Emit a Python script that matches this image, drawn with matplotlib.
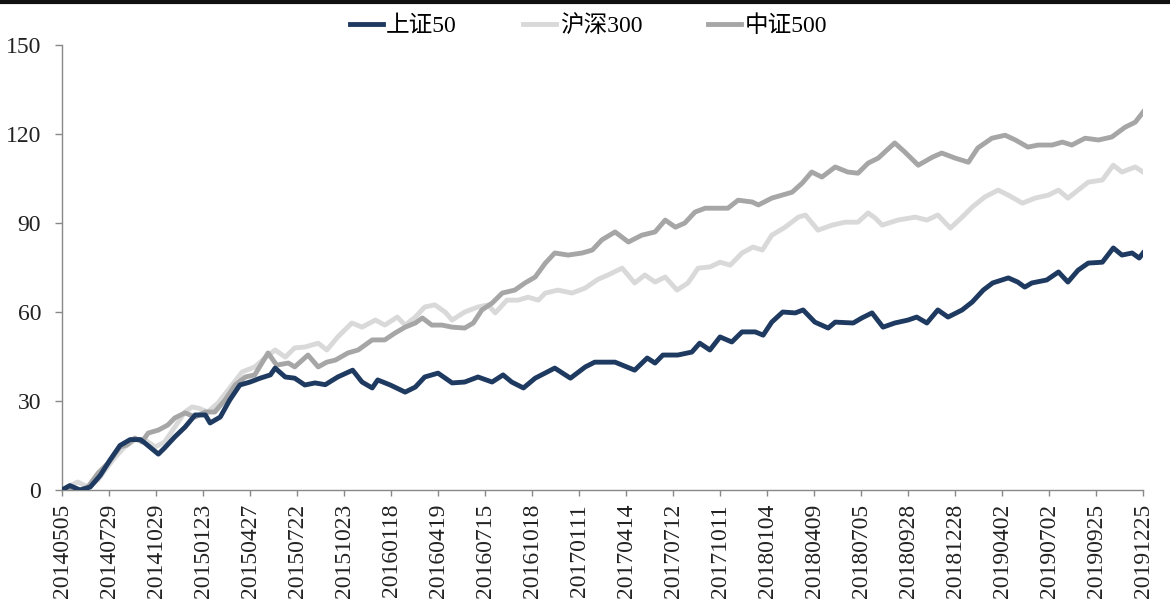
import matplotlib
matplotlib.use("Agg")
import matplotlib.pyplot as plt
from matplotlib.lines import Line2D

plt.rcParams['font.family'] = ['Liberation Serif', 'Noto Sans CJK SC', 'DejaVu Sans']
plt.rcParams['axes.unicode_minus'] = False

# trading-day index -> cumulative value
sz50_x = [0, 10, 23, 36, 49, 61, 74, 87, 100, 106, 123, 131, 144, 157, 170, 183, 189, 202,
          214, 227, 240, 253, 266, 272, 285, 297, 310, 323, 336, 352, 371, 383, 396, 403,
          419, 438, 451, 463, 480, 498, 514, 531, 549, 563, 574, 589, 604, 629, 649, 668,
          680, 706, 731, 747, 757, 767, 786, 804, 814, 827, 840, 855, 868, 885, 895, 906,
          920, 936, 946, 961, 978, 987, 1010, 1021, 1034, 1048, 1063, 1080, 1091, 1104,
          1118, 1131, 1149, 1162, 1176, 1188, 1208, 1220, 1229, 1238, 1257, 1272, 1284,
          1297, 1310, 1328, 1342, 1353, 1366, 1375, 1380]
sz50_y = [0.0, 1.5, 0.0, 1.0, 5.0, 10.0, 15.0, 17.0, 17.0, 15.8, 12.1, 14.2, 17.9, 21.2, 25.3,
          25.3, 22.6, 24.6, 30.3, 35.4, 36.4, 37.7, 38.8, 41.1, 38.1, 37.7, 35.4, 36.1, 35.5,
          38.1, 40.4, 36.4, 34.4, 37.1, 35.4, 33.0, 34.7, 38.1, 39.4, 36.1, 36.4, 38.1, 36.4,
          38.8, 36.4, 34.4, 37.7, 41.1, 37.7, 41.5, 43.1, 43.1, 40.4, 44.5, 42.8, 45.5, 45.5,
          46.5, 49.5, 47.2, 51.6, 49.9, 53.3, 53.3, 52.2, 56.6, 60.0, 59.7, 60.7, 56.6, 54.6,
          56.6, 56.3, 58.0, 59.7, 54.9, 56.3, 57.3, 58.3, 56.3, 60.7, 58.3, 60.7, 63.4, 67.4,
          69.8, 71.5, 70.1, 68.4, 69.8, 70.8, 73.5, 70.1, 74.1, 76.5, 76.8, 81.6, 79.2, 79.9,
          78.2, 79.9]

hs300_x = [0, 20, 33, 46, 55, 68, 80, 93, 106, 119, 131, 144, 157, 166, 174, 186, 199, 212,
           230, 246, 259, 272, 285, 297, 310, 327, 338, 352, 370, 383, 400, 412, 428, 438,
           451, 463, 476, 489, 498, 514, 531, 544, 553, 568, 582, 595, 608, 617, 633, 651,
           668, 684, 697, 715, 731, 744, 757, 770, 785, 799, 812, 827, 840, 853, 868, 882,
           894, 906, 923, 940, 949, 965, 983, 1000, 1016, 1029, 1038, 1047, 1067, 1089,
           1104, 1118, 1134, 1149, 1162, 1178, 1195, 1208, 1226, 1242, 1259, 1272, 1284,
           1297, 1310, 1328, 1342, 1353, 1370, 1380]
hs300_y = [0.0, 2.7, 1.0, 3.4, 6.7, 11.1, 14.5, 16.9, 16.9, 14.5, 16.2, 21.2, 26.3, 28.0,
           27.6, 26.3, 29.3, 33.7, 39.8, 41.5, 44.5, 47.2, 44.8, 47.9, 48.2, 49.5, 47.2, 51.6,
           56.3, 54.9, 57.3, 55.6, 58.3, 55.6, 58.3, 61.7, 62.4, 60.0, 57.3, 60.0, 61.7, 62.4,
           59.7, 64.0, 64.0, 65.0, 64.0, 66.4, 67.4, 66.4, 68.1, 71.0, 72.5, 74.8, 69.8, 72.5,
           70.1, 71.8, 67.4, 69.8, 74.8, 75.2, 76.8, 75.8, 79.9, 81.9, 80.9, 85.9, 88.6, 92.0,
           92.7, 87.6, 89.3, 90.3, 90.3, 93.4, 91.7, 89.3, 91.0, 92.0, 91.0, 92.7, 88.3, 92.0,
           95.4, 98.8, 101.1, 99.4, 96.7, 98.4, 99.4, 101.1, 98.4, 101.1, 103.8, 104.5, 109.5,
           107.2, 108.9, 107.2]

zz500_x = [0, 8, 23, 33, 46, 59, 74, 83, 93, 102, 110, 123, 135, 144, 157, 170, 183, 195,
           208, 221, 234, 246, 263, 274, 289, 297, 314, 327, 338, 349, 365, 378, 396, 412,
           425, 438, 451, 460, 472, 485, 498, 514, 525, 536, 549, 562, 578, 591, 604, 617,
           629, 646, 664, 677, 689, 706, 723, 740, 757, 770, 783, 795, 808, 821, 834, 850,
           863, 881, 889, 906, 919, 932, 945, 957, 970, 987, 1003, 1016, 1029, 1042, 1053,
           1063, 1076, 1093, 1111, 1123, 1140, 1157, 1169, 1187, 1204, 1217, 1233, 1246,
           1264, 1277, 1289, 1306, 1323, 1340, 1357, 1370, 1380]
zz500_y = [0.0, 1.0, 0.0, 1.0, 5.7, 9.1, 14.5, 15.2, 17.5, 16.2, 19.2, 20.2, 21.9, 24.3, 26.0,
           24.6, 26.3, 26.3, 30.3, 35.4, 38.1, 38.8, 46.2, 42.1, 42.8, 41.5, 45.5, 41.5, 43.1,
           43.8, 46.2, 47.2, 50.6, 50.6, 52.9, 54.9, 56.3, 58.0, 55.6, 55.6, 54.9, 54.6, 56.3,
           60.7, 63.0, 66.4, 67.4, 69.8, 71.8, 76.5, 79.9, 79.2, 79.9, 80.9, 84.3, 87.0, 83.6,
           85.9, 87.0, 91.0, 88.6, 90.0, 93.7, 95.0, 95.0, 95.0, 97.7, 97.1, 96.1, 98.4, 99.4,
           100.4, 103.5, 107.2, 105.5, 108.9, 107.2, 106.8, 110.2, 111.9, 114.6, 117.0, 113.9,
           109.5, 112.2, 113.6, 111.9, 110.5, 115.3, 118.6, 119.6, 118.0, 115.6, 116.3, 116.3,
           117.3, 116.3, 118.6, 118.0, 119.0, 122.3, 124.0, 127.4]

tick_labels = ["20140505", "20140729", "20141029", "20150123", "20150427", "20150722",
               "20151023", "20160118", "20160419", "20160715", "20161018", "20170111",
               "20170414", "20170712", "20171011", "20180104", "20180409", "20180705",
               "20180928", "20181228", "20190402", "20190702", "20190925", "20191225"]
tick_step = 60
y_ticks = [0, 30, 60, 90, 120, 150]

fig = plt.figure(figsize=(11.70, 6.09), dpi=100)
ax = fig.add_axes([0.053, 0.1954, 0.924, 0.7306])

ax.plot(sz50_x, sz50_y, color="#1f3a60", lw=3.5, label="上证50", zorder=3)
ax.plot(hs300_x, hs300_y, color="#d9d9d9", lw=3.5, label="沪深300", zorder=2)
ax.plot(zz500_x, zz500_y, color="#a6a6a6", lw=3.5, label="中证500", zorder=2)

ax.set_xlim(0, tick_step * (len(tick_labels) - 1))
ax.set_ylim(0, 150)
ax.set_xticks([i * tick_step for i in range(len(tick_labels))])
ax.set_xticklabels(tick_labels, rotation=90, fontsize=17, color="#222222")
ax.set_yticks(y_ticks)
ax.set_yticklabels([str(v) for v in y_ticks], fontsize=17, color="#222222")
ax.tick_params(axis="x", direction="out", length=4, width=1, color="#888888", pad=6)
ax.tick_params(axis="y", direction="out", length=5, width=1, color="#888888", pad=10)

for s in ["top", "right"]:
    ax.spines[s].set_visible(False)
for s in ["left", "bottom"]:
    ax.spines[s].set_color("#888888")
    ax.spines[s].set_linewidth(1)

ax.legend(loc="upper center", bbox_to_anchor=(0.487, 1.115), ncol=3, frameon=False,
          fontsize=17, handlelength=1.4, handletextpad=0.15, columnspacing=2.8)

# dark rule across the top edge
fig.add_artist(Line2D([0, 1], [0.997, 0.997], transform=fig.transFigure,
                      color="#111111", lw=3))

fig.savefig("out.png", dpi=100)
